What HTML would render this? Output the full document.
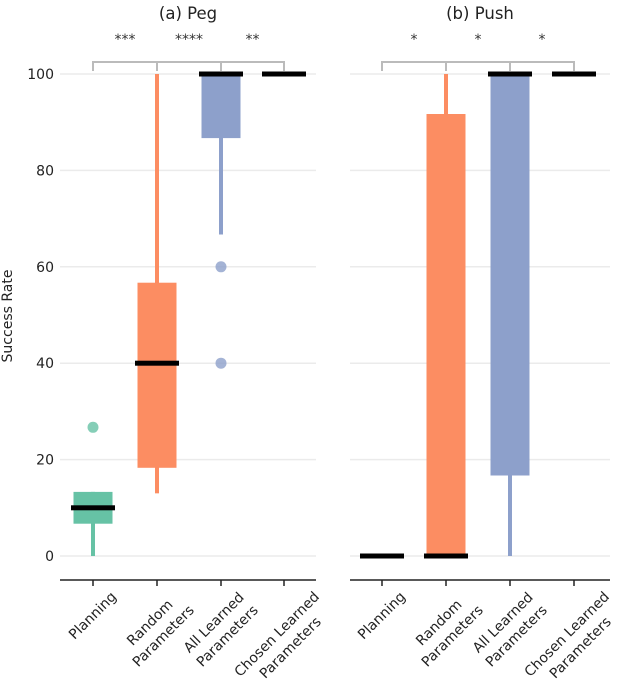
<!DOCTYPE html>
<html><head><meta charset="utf-8"><style>
body{margin:0;background:#fff}
svg{display:block;font-family:"DejaVu Sans","Liberation Sans",sans-serif}
</style></head><body>
<svg id="chart" width="618" height="694" viewBox="0 0 618 694"></svg>
<script>
const categories=["Planning","Random Parameters","All Learned Parameters","Chosen Learned Parameters"];
const pegQ1=[6.7,18.3,86.7,100], pegQ3=[13.3,56.7,100,100], pegMed=[10,40,100,100], pegLo=[0,13,66.7,100], pegHi=[13.3,100,100,100];
const pegOut=[[26.7],[],[60,40],[]];
const pushQ1=[0,0,16.7,100], pushQ3=[0,91.7,100,100], pushMed=[0,0,100,100], pushLo=[0,0,0,100], pushHi=[0,100,100,100];
const pushOut=[[],[],[],[]];
const yTicks=[0,20,40,60,80,100];
const pegStars=["***","****","**"], pushStars=["*","*","*"];
const colors=["#66c2a5","#fc8d62","#8da0cb","#8da0cb"];
const NS="http://www.w3.org/2000/svg", svg=document.getElementById('chart');
function mk(t,a,p){const e=document.createElementNS(NS,t);for(const k in a)e.setAttribute(k,a[k]);(p||svg).appendChild(e);return e;}
const y=v=>556-v*4.82;
const panels=[
 {name:"peg",title:"(a) Peg",x0:60,x1:316,xs:[93,157,221,284],q1:pegQ1,q3:pegQ3,med:pegMed,lo:pegLo,hi:pegHi,out:pegOut,stars:pegStars,yaxis:true},
 {name:"push",title:"(b) Push",x0:350,x1:610,xs:[382,446,510,574],q1:pushQ1,q3:pushQ3,med:pushMed,lo:pushLo,hi:pushHi,out:pushOut,stars:pushStars,yaxis:false}];
panels.forEach(P=>{
 const g=mk('g',{});
 
 
 const t=mk('text',{x:(P.x0+P.x1)/2,y:19,'text-anchor':'middle','font-size':16.5,fill:'#222'},g);t.textContent=P.title;
 
 yTicks.forEach(v=>{
  const l=mk('line',{x1:P.x0,x2:P.x1,y1:y(v),y2:y(v),stroke:'#ebebeb','stroke-width':1.5},g);
  
  if(P.yaxis){const tl=mk('text',{x:54,y:y(v)+5,'text-anchor':'end','font-size':14,fill:'#222'},g);tl.textContent=v;
   }
 });
 const ax=mk('line',{x1:P.x0,x2:P.x1,y1:580,y2:580,stroke:'#222','stroke-width':1.5},g);
 
 P.xs.forEach((cx,i)=>{
  mk('line',{x1:cx,x2:cx,y1:580,y2:586,stroke:'#222','stroke-width':1.5},g);
  const c=colors[i];
  const w=mk('rect',{x:cx-2,y:y(P.hi[i]),width:4,height:y(P.lo[i])-y(P.hi[i]),fill:c},g);
  
  const b=mk('rect',{x:cx-19.5,y:y(P.q3[i]),width:39,height:y(P.q1[i])-y(P.q3[i]),fill:c},g);
  
  const m=mk('rect',{x:cx-22,y:y(P.med[i])-2.5,width:44,height:5,fill:'#000'},g);
  
  P.out[i].forEach(v=>{const o=mk('circle',{cx:cx,cy:y(v),r:5.5,fill:c,opacity:0.8},g);
   });
  const lab=categories[i].split(' ');
  const lines=lab.length===1?[lab[0]]:lab.length===2?[lab[0],lab[1]]:[lab[0]+' '+lab[1],lab[2]];
  const tx=mk('text',{transform:'rotate(-45)','text-anchor':'middle','font-size':14,fill:'#222'},g);
  
  
  lines.forEach((s,k)=>{const ts=mk('tspan',{x:0,dy:k?19:0},tx);ts.textContent=s;});
  const bb=tx.getBoundingClientRect(), sb=svg.getBoundingClientRect();
  const dx=cx-((bb.left+bb.right)/2-sb.left), dy=589-(bb.top-sb.top);
  tx.setAttribute('transform',`translate(${dx},${dy}) rotate(-45)`);
 });
 const br=mk('path',{d:`M${P.xs[0]},71 V62 H${P.xs[3]} V71 M${P.xs[1]},62 V71 M${P.xs[2]},62 V71`,fill:'none',stroke:'#bbb','stroke-width':2},g);
 
 P.stars.forEach((s,k)=>{const st=mk('text',{x:(P.xs[k]+P.xs[k+1])/2,y:44,'text-anchor':'middle','font-size':14,fill:'#333'},g);st.textContent=s;
  });
});
const yl=mk('text',{transform:'translate(12,316) rotate(-90)','text-anchor':'middle','font-size':14,fill:'#222'});
yl.textContent="Success Rate";


</script>
</body></html>
